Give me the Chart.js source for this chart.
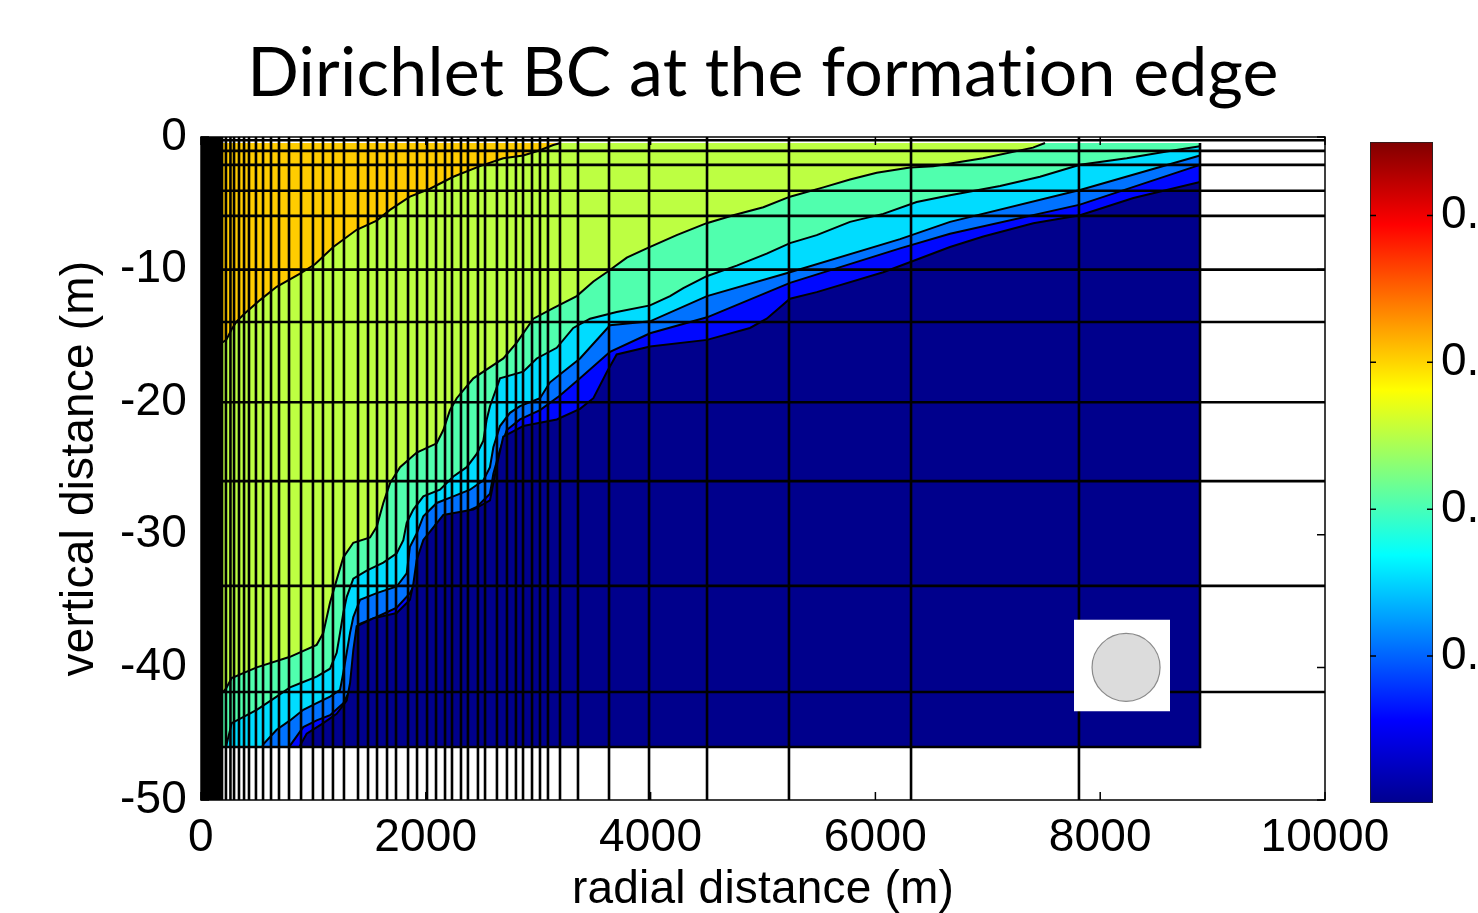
<!DOCTYPE html>
<html>
<head>
<meta charset="utf-8">
<script src="https://cdn.jsdelivr.net/npm/chart.js@4.4.1/dist/chart.umd.min.js"></script>
<style>
  html, body { margin: 0; padding: 0; background: #fff; overflow: hidden; }
  #main { position: absolute; left: 0; top: 0; }
  #cb { position: absolute; left: 1340px; top: 0; }
</style>
</head>
<body>
<canvas id="main" width="1478" height="913"></canvas>
<canvas id="cb" width="200" height="913"></canvas>
<script>
// axis ticks
const xTicks = [0, 2000, 4000, 6000, 8000, 10000];
const yTicks = [0, -10, -20, -30, -40, -50];
const cbTicks = [0.1, 0.2, 0.3, 0.4];
const cbMin = 0, cbMax = 0.45;

// model domain (m)
const regionLeft = 190, regionRight = 8888;
const regionTop = -0.45, regionBottom = -46;
const wellBand = [0, 185];

// radial / vertical mesh lines (m)
const meshX = [187, 222, 262, 294, 338, 383, 427, 489, 552, 623, 694, 783, 890, 996, 1085, 1174, 1272, 1397,
  1486, 1566, 1655, 1735, 1842, 1922, 2011, 2091, 2171, 2233, 2313, 2375, 2464, 2527, 2633, 2722, 2802,
  2865, 2945, 3016, 3087, 3194, 3354, 3630, 3986, 4502, 5231, 6317, 7811];
const meshY = [-0.25, -1.05, -2.1, -4.05, -5.95, -10, -13.95, -20, -25.95, -33.85, -41.85];

// contour boundaries (depth vs radial distance)
const b1X = [190, 225, 273, 318, 391, 525, 673, 881, 1014, 1177, 1385, 1563, 1681, 1859, 2037, 2245, 2482, 2689, 2867, 3016, 3134, 3200, 8888];
const b1Y = [-15.5, -15.3, -14.5, -13.9, -13.3, -12.3, -11.3, -10.3, -9.6, -8.3, -7.0, -6.3, -5.5, -4.5, -3.9, -3.0, -2.2, -1.6, -1.4, -1.0, -0.6, -0.45, -0.45];

const b2X = [190, 222, 273, 496, 792, 1029, 1088, 1148, 1207, 1266, 1355, 1504, 1563, 1622, 1682, 1771, 1919, 2097, 2156, 2215, 2275, 2423,
  2690, 2809, 2957, 3134, 3343, 3491, 3610, 3788, 3966, 4232, 4499, 4736, 5003, 5240, 5537, 5774, 6012, 6308, 6515, 6957, 7402, 7509, 8888];
const b2Y = [-41.9, -41.6, -40.8, -40.0, -39.2, -38.3, -37.4, -35.1, -33.4, -31.7, -30.6, -30.2, -29.4, -27.6, -26.1, -24.9, -23.8, -23.1, -22.1, -20.6, -19.7, -18.2,
  -16.7, -15.5, -13.7, -12.9, -12.0, -10.9, -10.2, -9.1, -8.4, -7.4, -6.5, -5.9, -5.3, -4.5, -3.8, -3.2, -2.7, -2.3, -2.2, -1.6, -0.8, -0.45, -0.45];

const b3X = [190, 222, 273, 496, 673, 792, 910, 1029, 1148, 1207, 1237, 1266, 1296, 1355, 1474, 1622, 1741, 1800, 1830, 1889, 1978, 2126, 2245, 2364, 2453, 2512, 2542,
  2571, 2660, 2867, 2987, 3165, 3312, 3461, 3698, 3995, 4173, 4291, 4499, 4766, 5033, 5240, 5478, 5774, 6070, 6367, 6664, 7109, 7464, 7820, 8236, 8592, 8888];
const b3Y = [-46, -46, -44.2, -43.2, -42.2, -41.5, -41.1, -40.7, -40.1, -38.9, -37.4, -35.9, -34.7, -33.3, -32.7, -32.1, -31.4, -30.4, -29.1, -28.1, -27.1, -26.6, -25.6, -24.9, -23.9, -22.9, -21.3,
  -20.3, -18.2, -17.7, -16.7, -15.9, -14.4, -13.7, -13.2, -12.7, -12.0, -11.4, -10.5, -9.7, -8.8, -8.0, -7.4, -6.4, -5.8, -4.9, -4.4, -3.7, -3.0, -2.1, -1.6, -1.1, -0.7];

const b4X = [190, 545, 554, 673, 792, 910, 1029, 1148, 1237, 1266, 1296, 1326, 1355, 1415, 1563, 1741, 1830, 1859, 1919, 1978, 2097, 2245, 2393, 2512, 2571,
  2601, 2660, 2749, 2838, 3016, 3105, 3372, 3639, 3995, 4502, 5240, 6219, 6664, 7820, 8888];
const b4Y = [-46, -46, -45.8, -44.7, -44.0, -43.2, -42.7, -42.2, -41.7, -40.4, -38.9, -37.4, -36.2, -34.9, -34.4, -33.9, -32.9, -30.9, -29.9, -28.6, -27.6, -27.1, -26.6, -25.9, -24.9,
  -23.4, -21.8, -20.8, -20.3, -19.7, -18.5, -16.7, -14.2, -13.9, -12.0, -10.2, -7.7, -6.4, -4.0, -1.4];

const b5X = [190, 785, 792, 910, 1029, 1148, 1266, 1326, 1355, 1385, 1415, 1563, 1741, 1859, 1919, 1948, 2008, 2097, 2275, 2453, 2571, 2601, 2660, 2720,
  2838, 3016, 3194, 3372, 3639, 3995, 4502, 5240, 6219, 6664, 7820, 8888];
const b5Y = [-46, -46, -45.9, -44.5, -44.0, -43.6, -42.7, -41.7, -39.9, -37.4, -36.7, -36.2, -35.5, -34.4, -33.4, -31.9, -30.4, -29.1, -28.6, -27.9, -26.9, -25.4, -23.6, -22.1,
  -21.3, -20.6, -19.5, -18.2, -16.2, -14.8, -13.6, -11.0, -8.4, -7.3, -5.1, -2.1];

const b6X = [190, 875, 881, 940, 1088, 1207, 1296, 1326, 1355, 1385, 1533, 1741, 1859, 1889, 1919, 1978, 2156, 2423, 2571, 2601, 2631, 2689, 2867, 3165,
  3372, 3491, 3612, 3698, 3995, 4502, 4884, 5033, 5240, 5478, 6070, 6664, 6960, 7405, 7820, 8295, 8888];
const b6Y = [-46, -46, -45.9, -45.0, -44.2, -43.5, -42.5, -41.2, -38.7, -36.9, -36.3, -35.9, -34.9, -33.7, -31.9, -30.4, -28.5, -28.1, -27.4, -26.1, -24.8, -22.6, -21.8, -21.3,
  -20.5, -19.7, -17.7, -16.4, -15.8, -15.3, -14.4, -13.7, -12.2, -11.7, -10.2, -8.3, -7.5, -6.5, -5.9, -4.6, -3.4];

// inset marker
const insetX = [7767, 8621];
const insetY = [-36.4, -43.3];
const markerX = 8230, markerY = -40.0;

const bandColors = ['#FFCC00', '#BDFF42', '#50FFAE', '#00DCFF', '#0072FF', '#0008FF', '#00008C'];

Chart.defaults.font.family = '"Liberation Sans", Arial, sans-serif';
Chart.defaults.color = '#000';

const pts = (xs, ys) => xs.map((x, i) => ({ x: x, y: ys[i] }));

const hideEdge = ctx => {
  const a = ctx.p0.parsed.y, b = ctx.p1.parsed.y;
  if (a === b && (a === regionTop || a === regionBottom)) return 'rgba(0,0,0,0)';
  return undefined;
};

function band(xs, ys, color, order) {
  return {
    data: pts(xs, ys),
    showLine: true,
    borderColor: '#000',
    borderWidth: 2,
    backgroundColor: color,
    fill: { value: regionBottom },
    pointRadius: 0,
    order: order,
    segment: { borderColor: hideEdge }
  };
}

const meshPts = [];
meshX.forEach(x => { meshPts.push({ x: x, y: 0 }, { x: x, y: -50 }, { x: x, y: null }); });
meshY.forEach(y => { meshPts.push({ x: 0, y: y }, { x: 10000, y: y }, { x: 10000, y: null }); });
// outline of the model domain
meshPts.push({ x: 0, y: regionBottom }, { x: regionRight, y: regionBottom }, { x: regionRight, y: regionTop }, { x: regionRight, y: null });

const datasets = [
  { data: pts(wellBand, [0, 0]), showLine: true, borderWidth: 0, backgroundColor: '#000', fill: { value: -50 }, pointRadius: 0, order: 20 },
  { data: pts([regionLeft, regionRight], [regionTop, regionTop]), showLine: true, borderWidth: 0, backgroundColor: bandColors[0], fill: { value: regionBottom }, pointRadius: 0, order: 19 },
  band(b1X, b1Y, bandColors[1], 18),
  band(b2X, b2Y, bandColors[2], 17),
  band(b3X, b3Y, bandColors[3], 16),
  band(b4X, b4Y, bandColors[4], 15),
  band(b5X, b5Y, bandColors[5], 14),
  band(b6X, b6Y, bandColors[6], 13),
  { data: meshPts, showLine: true, borderColor: '#000', borderWidth: 2.6, pointRadius: 0, spanGaps: false, order: 5 },
  { data: pts(insetX, [insetY[0], insetY[0]]), showLine: true, borderWidth: 0, backgroundColor: '#fff', fill: { value: insetY[1] }, pointRadius: 0, order: 2 },
  { data: [{ x: markerX, y: markerY }], pointRadius: 34, pointBackgroundColor: '#dcdcdc', pointBorderColor: '#8a8a8a', pointBorderWidth: 1.2, order: 1 }
];

// tiny letter spacing keeps the title free of the "ti" ligature
const noLigatures = {
  id: 'noLigatures',
  beforeDraw(chart) { chart.ctx.letterSpacing = '0.2px'; }
};

// frame and inward tick marks (matlab style)
const frameTicks = {
  id: 'frameTicks',
  afterDatasetsDraw(chart) {
    const { ctx, chartArea: a, scales } = chart;
    const len = 8;
    ctx.save();
    ctx.strokeStyle = '#000';
    ctx.lineWidth = 1.5;
    ctx.strokeRect(a.left, a.top, a.right - a.left, a.bottom - a.top);
    ctx.beginPath();
    scales.x.ticks.forEach(t => {
      const p = scales.x.getPixelForValue(t.value);
      ctx.moveTo(p, a.bottom); ctx.lineTo(p, a.bottom - len);
      ctx.moveTo(p, a.top); ctx.lineTo(p, a.top + len);
    });
    scales.y.ticks.forEach(t => {
      const p = scales.y.getPixelForValue(t.value);
      ctx.moveTo(a.left, p); ctx.lineTo(a.left + len, p);
      ctx.moveTo(a.right, p); ctx.lineTo(a.right - len, p);
    });
    ctx.stroke();
    ctx.restore();
  }
};

const tickFont = { size: 46 };

new Chart(document.getElementById('main'), {
  type: 'scatter',
  data: { datasets: datasets },
  options: {
    responsive: false,
    animation: false,
    devicePixelRatio: 1,
    layout: { padding: { left: 57, right: 153, top: 0, bottom: 0 } },
    plugins: {
      legend: { display: false },
      tooltip: { enabled: false },
      title: {
        display: true,
        fullSize: false,
        text: 'Dirichlet BC at the formation edge',
        color: '#000',
        font: { family: 'Lato, "Open Sans", sans-serif', size: 68, weight: 'normal', lineHeight: 1.2 },
        padding: { top: 33, bottom: 22.4 }
      }
    },
    scales: {
      x: {
        type: 'linear', min: 0, max: 10000,
        grid: { display: false, drawTicks: false },
        border: { display: false },
        afterBuildTicks: s => { s.ticks = xTicks.map(v => ({ value: v })); },
        afterFit: s => { s.height = 113; },
        ticks: { font: tickFont, padding: 11, maxRotation: 0, callback: v => String(v) },
        title: { display: true, text: 'radial distance (m)', font: { size: 46, lineHeight: 1.0 }, padding: 0 }
      },
      y: {
        type: 'linear', min: -50, max: 0,
        grid: { display: false, drawTicks: false },
        border: { display: false },
        afterBuildTicks: s => { s.ticks = yTicks.map(v => ({ value: v })); },
        afterFit: s => { s.width = 144; },
        ticks: { font: tickFont, padding: 14, callback: v => String(v) },
        title: { display: true, text: 'vertical distance (m)', font: { size: 46, lineHeight: 1.0 }, padding: 0 }
      }
    }
  },
  plugins: [noLigatures, frameTicks]
});

// colour bar
function jet(context) {
  const chart = context.chart;
  const a = chart.chartArea;
  if (!a) return '#000080';
  const g = chart.ctx.createLinearGradient(0, a.bottom, 0, a.top);
  g.addColorStop(0, '#00008F');
  g.addColorStop(0.125, '#0000FF');
  g.addColorStop(0.375, '#00FFFF');
  g.addColorStop(0.625, '#FFFF00');
  g.addColorStop(0.875, '#FF0000');
  g.addColorStop(1, '#800000');
  return g;
}

const cbTickMarks = {
  id: 'cbTickMarks',
  afterDatasetsDraw(chart) {
    const { ctx, chartArea: a, scales } = chart;
    ctx.save();
    ctx.strokeStyle = '#000';
    ctx.lineWidth = 1.5;
    ctx.beginPath();
    scales.y.ticks.forEach(t => {
      const p = scales.y.getPixelForValue(t.value);
      ctx.moveTo(a.left, p); ctx.lineTo(a.left + 6, p);
      ctx.moveTo(a.right, p); ctx.lineTo(a.right - 6, p);
    });
    ctx.stroke();
    ctx.restore();
  }
};

new Chart(document.getElementById('cb'), {
  type: 'bar',
  data: {
    labels: [''],
    datasets: [{
      data: [[cbMin, cbMax]],
      backgroundColor: jet,
      borderColor: '#222',
      borderWidth: 1.2,
      borderSkipped: false,
      barPercentage: 1,
      categoryPercentage: 1
    }]
  },
  options: {
    responsive: false,
    animation: false,
    devicePixelRatio: 1,
    layout: { padding: { left: 30, right: 0, top: 142, bottom: 110 } },
    plugins: { legend: { display: false }, tooltip: { enabled: false } },
    scales: {
      x: { display: false },
      y: {
        position: 'right', min: cbMin, max: cbMax,
        grid: { display: false, drawTicks: false },
        border: { display: false },
        afterBuildTicks: s => { s.ticks = cbTicks.map(v => ({ value: v })); },
        afterFit: s => { s.width = 107; },
        ticks: { font: tickFont, padding: 8, callback: v => v.toFixed(1) }
      }
    }
  },
  plugins: [cbTickMarks]
});
</script>
</body>
</html>
